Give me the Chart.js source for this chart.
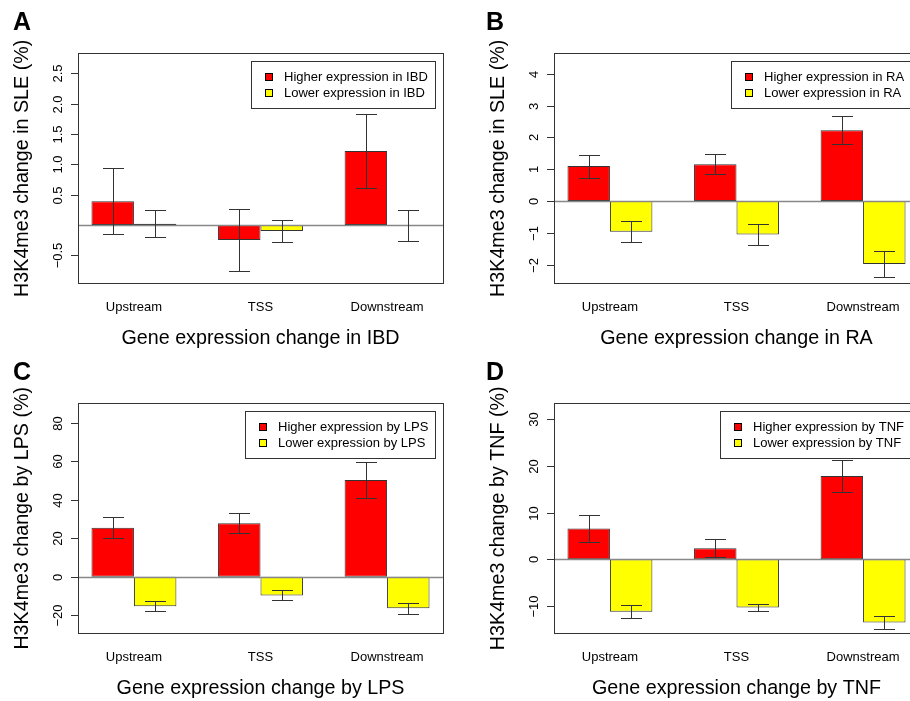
<!DOCTYPE html>
<html>
<head>
<meta charset="utf-8">
<script src="https://cdn.jsdelivr.net/npm/chart.js@4.4.1/dist/chart.umd.min.js"></script>
<style>
  html, body { margin: 0; padding: 0; background: #fff; overflow: hidden; }
  #wrap { position: relative; width: 910px; height: 701px; overflow: hidden; background: #fff; }
  canvas { position: absolute; }
</style>
</head>
<body>
<div id="wrap">
  <canvas id="panelA" width="476" height="350" style="left:0;top:0"></canvas>
  <canvas id="panelB" width="476" height="350" style="left:476px;top:0"></canvas>
  <canvas id="panelC" width="476" height="350" style="left:0;top:350px"></canvas>
  <canvas id="panelD" width="476" height="350" style="left:476px;top:350px"></canvas>
</div>
<script>
const categories = ['Upstream', 'TSS', 'Downstream'];

// A - IBD
const higherIBD = [0.39, -0.245, 1.22];
const higherIBDErr = [0.545, 0.51, 0.61];
const lowerIBD = [0.02, -0.10, -0.01];
const lowerIBDErr = [0.22, 0.18, 0.25];
const ticksA = [-0.5, 0.5, 1.0, 1.5, 2.0, 2.5];
const tickLabelsA = ['\u22120.5', '0.5', '1.0', '1.5', '2.0', '2.5'];

// B - RA
const higherRA = [1.10, 1.155, 2.23];
const higherRAErr = [0.36, 0.31, 0.44];
const lowerRA = [-0.97, -1.05, -1.98];
const lowerRAErr = [0.33, 0.32, 0.41];
const ticksB = [-2, -1, 0, 1, 2, 3, 4];
const tickLabelsB = ['\u22122', '\u22121', '0', '1', '2', '3', '4'];

// C - LPS
const higherLPS = [25.5, 27.8, 50.3];
const higherLPSErr = [5.6, 5.2, 9.4];
const lowerLPS = [-15.4, -9.7, -16.4];
const lowerLPSErr = [2.6, 2.6, 3.0];
const ticksC = [-20, 0, 20, 40, 60, 80];
const tickLabelsC = ['\u221220', '0', '20', '40', '60', '80'];

// D - TNF
const higherTNF = [6.6, 2.4, 17.8];
const higherTNFErr = [2.8, 2.0, 3.5];
const lowerTNF = [-11.2, -10.3, -13.5];
const lowerTNFErr = [1.4, 0.8, 1.4];
const ticksD = [-10, 0, 10, 20, 30];
const tickLabelsD = ['\u221210', '0', '10', '20', '30'];

const FONT = '"Liberation Sans", Arial, Helvetica, sans-serif';

// zero line, error bars, box, rotated y ticks, legend, panel letter
const decor = {
  id: 'decor',
  afterDatasetsDraw(chart, args, opts) {
    const { ctx, chartArea: a } = chart;
    const y = chart.scales.y;
    ctx.save();
    const y0 = Math.round(y.getPixelForValue(0)) + 0.5;
    ctx.strokeStyle = '#888';
    ctx.lineWidth = 1.5;
    ctx.beginPath();
    ctx.moveTo(a.left, y0);
    ctx.lineTo(a.right, y0);
    ctx.stroke();

    ctx.strokeStyle = '#333';
    ctx.lineWidth = 1;
    chart.data.datasets.forEach((ds, di) => {
      chart.getDatasetMeta(di).data.forEach((bar, i) => {
        const v = ds.data[i].y, e = ds.errors[i];
        const x = Math.round(bar.x) + 0.5;
        const yt = Math.round(y.getPixelForValue(v + e)) + 0.5;
        const yb = Math.round(y.getPixelForValue(v - e)) + 0.5;
        ctx.beginPath();
        ctx.moveTo(x, yt); ctx.lineTo(x, yb);
        ctx.moveTo(x - 10.5, yt); ctx.lineTo(x + 10.5, yt);
        ctx.moveTo(x - 10.5, yb); ctx.lineTo(x + 10.5, yb);
        ctx.stroke();
      });
    });
    ctx.restore();
  },
  afterDraw(chart, args, opts) {
    const { ctx, chartArea: a } = chart;
    const y = chart.scales.y;
    ctx.save();
    // box
    ctx.strokeStyle = '#333';
    ctx.lineWidth = 1;
    ctx.strokeRect(Math.round(a.left) + 0.5, Math.round(a.top) + 0.5,
      Math.round(a.right - a.left), Math.round(a.bottom - a.top));

    // y ticks
    ctx.fillStyle = '#000';
    ctx.font = '13px ' + FONT;
    opts.ticks.forEach((t, i) => {
      const py = Math.round(y.getPixelForValue(t)) + 0.5;
      ctx.beginPath();
      ctx.moveTo(a.left - 7, py);
      ctx.lineTo(a.left, py);
      ctx.stroke();
      ctx.save();
      ctx.translate(a.left - 16, py);
      ctx.rotate(-Math.PI / 2);
      ctx.textAlign = 'center';
      ctx.textBaseline = 'alphabetic';
      ctx.fillText(opts.tickLabels[i], 0, 0);
      ctx.restore();
    });

    // legend
    const sets = chart.data.datasets;
    const tw = Math.max(...sets.map(d => ctx.measureText(d.label).width));
    const w = Math.round(33 + tw + 7), h = 47;
    const lx = Math.round(a.right - 8 - w), ly = Math.round(a.top + 8);
    ctx.fillStyle = '#fff';
    ctx.fillRect(lx, ly, w, h);
    ctx.strokeStyle = '#333';
    ctx.strokeRect(lx + 0.5, ly + 0.5, w, h);
    ctx.textAlign = 'left';
    ctx.textBaseline = 'middle';
    sets.forEach((d, i) => {
      const cy = ly + 16 + i * 16;
      ctx.fillStyle = d.backgroundColor;
      ctx.fillRect(lx + 14, cy - 4, 8, 8);
      ctx.strokeStyle = '#000';
      ctx.strokeRect(lx + 14.5, cy - 3.5, 7, 7);
      ctx.fillStyle = '#000';
      ctx.fillText(d.label, lx + 33, cy);
    });

    // panel letter
    ctx.font = 'bold 25px ' + FONT;
    ctx.textBaseline = 'alphabetic';
    ctx.fillText(opts.letter, opts.letterX, 30);
    ctx.restore();
  }
};

function makePanel(id, cfg) {
  const series = [
    { label: cfg.labels[0], values: cfg.higher, errs: cfg.higherErr, color: '#FF0000' },
    { label: cfg.labels[1], values: cfg.lower, errs: cfg.lowerErr, color: '#FFFF00' }
  ];
  return new Chart(document.getElementById(id), {
    type: 'bar',
    data: {
      datasets: series.map(s => ({
        label: s.label,
        data: s.values.map((v, i) => ({ x: i + 1, y: v })),
        errors: s.errs,
        backgroundColor: s.color,
        borderColor: '#333',
        borderWidth: 1,
        borderSkipped: false,
        categoryPercentage: 0.671,
        barPercentage: 1
      }))
    },
    options: {
      responsive: false,
      animation: false,
      events: [],
      layout: { padding: { top: 53.3, right: 33, bottom: 0, left: 0 } },
      plugins: {
        legend: { display: false },
        tooltip: { enabled: false },
        decor: { ticks: cfg.ticks, tickLabels: cfg.tickLabels, letter: cfg.letter, letterX: cfg.letterX }
      },
      scales: {
        x: {
          type: 'linear',
          bounds: 'data',
          offset: false,
          min: 0.558,
          max: 3.442,
          afterBuildTicks: s => { s.ticks = categories.map((c, i) => ({ value: i + 1 })); },
          afterFit: s => { s.height = 66.7; },
          grid: { display: false, drawTicks: false, offset: false },
          border: { display: false },
          ticks: {
            autoSkip: false, maxRotation: 0, padding: 16, color: '#000',
            font: { family: FONT, size: 13 },
            callback: (v, i) => categories[i]
          },
          title: {
            display: true, text: cfg.xTitle, color: '#000',
            font: { family: FONT, size: 19.7 }, padding: { top: 0, bottom: 0 }
          }
        },
        y: {
          type: 'linear',
          bounds: 'data',
          min: cfg.yMin,
          max: cfg.yMax,
          afterFit: s => { s.width = 78; },
          grid: { display: false, drawTicks: false },
          border: { display: false },
          ticks: { display: false },
          title: {
            display: true, text: cfg.yTitle, color: '#000',
            font: { family: FONT, size: 19.7 }, padding: { top: 11, bottom: 0 }
          }
        }
      }
    },
    plugins: [decor]
  });
}

makePanel('panelA', {
  letter: 'A', letterX: 13,
  labels: ['Higher expression in IBD', 'Lower expression in IBD'],
  higher: higherIBD, higherErr: higherIBDErr, lower: lowerIBD, lowerErr: lowerIBDErr,
  ticks: ticksA, tickLabels: tickLabelsA, yMin: -0.96, yMax: 2.83,
  yTitle: 'H3K4me3 change in SLE (%)', xTitle: 'Gene expression change in IBD'
});
makePanel('panelB', {
  letter: 'B', letterX: 10,
  labels: ['Higher expression in RA', 'Lower expression in RA'],
  higher: higherRA, higherErr: higherRAErr, lower: lowerRA, lowerErr: lowerRAErr,
  ticks: ticksB, tickLabels: tickLabelsB, yMin: -2.59, yMax: 4.65,
  yTitle: 'H3K4me3 change in SLE (%)', xTitle: 'Gene expression change in RA'
});
makePanel('panelC', {
  letter: 'C', letterX: 13,
  labels: ['Higher expression by LPS', 'Lower expression by LPS'],
  higher: higherLPS, higherErr: higherLPSErr, lower: lowerLPS, lowerErr: lowerLPSErr,
  ticks: ticksC, tickLabels: tickLabelsC, yMin: -29.4, yMax: 90.1,
  yTitle: 'H3K4me3 change by LPS (%)', xTitle: 'Gene expression change by LPS'
});
makePanel('panelD', {
  letter: 'D', letterX: 10,
  labels: ['Higher expression by TNF', 'Lower expression by TNF'],
  higher: higherTNF, higherErr: higherTNFErr, lower: lowerTNF, lowerErr: lowerTNFErr,
  ticks: ticksD, tickLabels: tickLabelsD, yMin: -15.8, yMax: 33.35,
  yTitle: 'H3K4me3 change by TNF (%)', xTitle: 'Gene expression change by TNF'
});
</script>
</body>
</html>
